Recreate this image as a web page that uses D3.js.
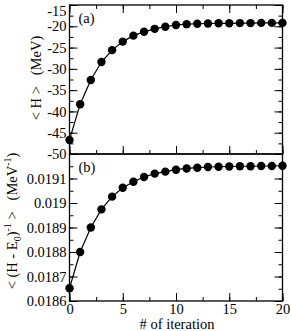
<!DOCTYPE html>
<html>
<head>
<meta charset="utf-8">
<script src="https://cdn.jsdelivr.net/npm/d3@7"></script>
<style>
  body { margin: 0; background: #fff; }
</style>
</head>
<body>
<div class="display"></div>
<script>
const width = 291;
const height = 331;

const iterations = d3.range(0, 21);
const energy = [-46.7, -38.3, -32.6, -28.4, -25.6, -23.6, -22.2, -21.3, -20.6, -20.1, -19.7,
                -19.5, -19.4, -19.35, -19.3, -19.3, -19.25, -19.25, -19.2, -19.2, -19.2];
const inverse = [0.018652, 0.01880, 0.01890, 0.018974, 0.019026, 0.019062, 0.019087, 0.019106,
                 0.019120, 0.019128, 0.019136, 0.019141, 0.019144, 0.019147, 0.019148, 0.019149,
                 0.019150, 0.019150, 0.019151, 0.019151, 0.019152];
const xTicks = [0, 5, 10, 15, 20];
const energyTicks = [-50, -45, -40, -35, -30, -25, -20, -15];
const inverseTicks = [0.0186, 0.0187, 0.0188, 0.0189, 0.019, 0.0191];

const left = 69.5, right = 282.5;
const fontSize = 14.5;
const serif = '"Liberation Serif"';

const svg = d3.select('.display')
  .append('svg')
  .attr('width', width)
  .attr('height', height);

const xScale = d3.scaleLinear().domain([0, 20]).range([left, right]);
const xMinor = d3.range(0, 20.01, 2.5);

function panel(top, bottom, domain, ticks, minorStep, values, fmt, tag, topTicks) {
  const yScale = d3.scaleLinear().domain(domain).range([bottom, top]);
  const g = svg.append('g');
  const yMinor = d3.range(domain[0], domain[1] + minorStep / 2, minorStep);

  const tickSets = [
    [d3.axisBottom(xScale).tickValues(xMinor).tickSize(-4), `translate(0,${bottom})`],
    [d3.axisLeft(yScale).tickValues(yMinor).tickSize(-4), `translate(${left},0)`],
    [d3.axisRight(yScale).tickValues(yMinor).tickSize(-4), `translate(${right},0)`],
    [d3.axisBottom(xScale).tickValues(xTicks).tickSize(-8), `translate(0,${bottom})`],
    [d3.axisLeft(yScale).tickValues(ticks).tickSize(-8), `translate(${left},0)`],
    [d3.axisRight(yScale).tickValues(ticks).tickSize(-8), `translate(${right},0)`]
  ];
  if (topTicks) {
    tickSets.push([d3.axisTop(xScale).tickValues(xMinor).tickSize(-4), `translate(0,${top})`]);
    tickSets.push([d3.axisTop(xScale).tickValues(xTicks).tickSize(-8), `translate(0,${top})`]);
  }
  tickSets.forEach(([axis, tr]) => {
    g.append('g').attr('transform', tr)
      .call(axis.tickFormat(''))
      .call(a => a.select('.domain').remove())
      .selectAll('line').attr('stroke', '#000').attr('stroke-width', 1);
  });

  // y tick labels
  g.append('g').attr('transform', `translate(${left},0)`)
    .call(d3.axisLeft(yScale).tickValues(ticks).tickSize(0).tickPadding(3).tickFormat(fmt))
    .call(a => a.select('.domain').remove())
    .selectAll('text')
    .attr('fill', '#000')
    .attr('dy', d => d === domain[1] ? '0.7em' : '0.32em');

  g.append('rect')
    .attr('x', left).attr('y', top)
    .attr('width', right - left).attr('height', bottom - top)
    .attr('fill', 'none').attr('stroke', '#000').attr('stroke-width', 1.3);

  const line = d3.line().x((d, i) => xScale(iterations[i])).y(d => yScale(d));
  g.append('path').datum(values)
    .attr('d', line).attr('fill', 'none').attr('stroke', '#000').attr('stroke-width', 1.2);

  g.selectAll('circle').data(values).enter().append('circle')
    .attr('cx', (d, i) => xScale(iterations[i]))
    .attr('cy', d => yScale(d))
    .attr('r', 4.2)
    .attr('fill', '#000');

  g.append('text')
    .attr('x', left + 9).attr('y', top + 18)
    .text(tag);
  return yScale;
}

panel(5, 154, [-50, -15], energyTicks, 2.5, energy, d => d, '(a)', true);
panel(154, 301, [0.0186, 0.0192], inverseTicks, 0.00005, inverse, d => +d.toFixed(4), '(b)', false);

// x tick labels
svg.append('g').attr('transform', 'translate(0,301)')
  .call(d3.axisBottom(xScale).tickValues(xTicks).tickSize(0).tickPadding(3).tickFormat(d => d))
  .call(a => a.select('.domain').remove())
  .selectAll('text')
  .attr('fill', '#000');

svg.append('text')
  .attr('x', 177).attr('y', 329)
  .attr('text-anchor', 'middle')
  .text('# of iteration');

svg.append('text')
  .attr('transform', 'translate(41,78) rotate(-90)')
  .attr('text-anchor', 'middle')
  .style('white-space', 'pre')
  .text('< H >   (MeV)');

const t2 = svg.append('text')
  .attr('transform', 'translate(17,221) rotate(-90)')
  .attr('text-anchor', 'middle')
  .style('white-space', 'pre');
t2.append('tspan').text('< (H - E');
t2.append('tspan').attr('class', 'small').attr('dy', 4).text('0');
t2.append('tspan').attr('dy', -4).text(')');
t2.append('tspan').attr('class', 'small').attr('dy', -6).text('-1');
t2.append('tspan').attr('dy', 6).text(' >   (MeV');
t2.append('tspan').attr('class', 'small').attr('dy', -6).text('-1');
t2.append('tspan').attr('dy', 6).text(')');

svg.selectAll('text')
  .style('font-family', serif)
  .style('font-size', fontSize + 'px');
svg.selectAll('tspan.small').style('font-size', '10px');
</script>
</body>
</html>
